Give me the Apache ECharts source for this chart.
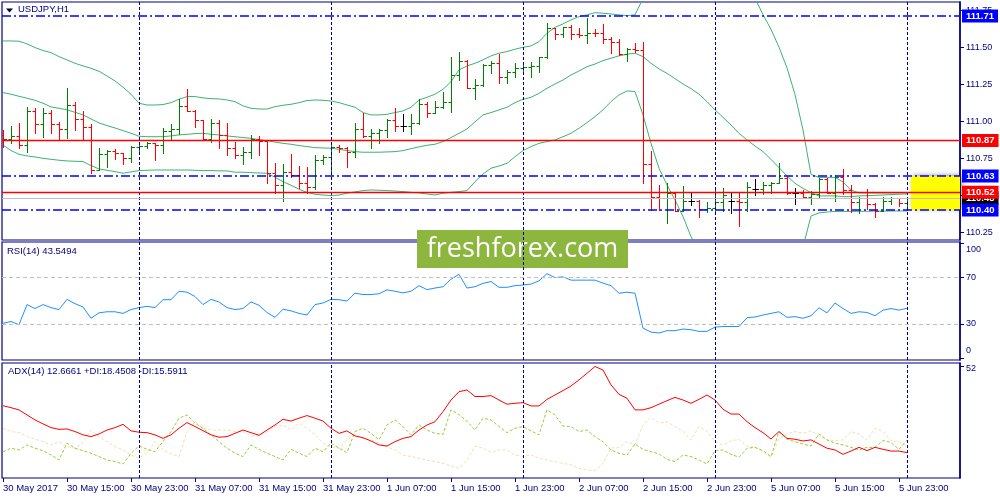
<!DOCTYPE html>
<html><head><meta charset="utf-8">
<script src="https://cdn.jsdelivr.net/npm/echarts@6/dist/echarts.min.js"></script>
<style>html,body{margin:0;padding:0;background:#fff}#c{width:1000px;height:500px}</style>
</head><body><div id="c"></div>
<script>
// ---- price bars (H1, 30 May 07:00 .. 6 Jun 00:00) ----
const opens = [110.907,110.877,110.900,110.837,111.069,110.981,111.053,110.981,110.945,111.107,
 111.015,110.963,110.670,110.778,110.801,110.783,110.751,110.828,110.835,110.850,
 110.839,110.936,110.945,111.103,111.071,111.008,110.877,110.986,110.907,110.817,
 110.772,110.794,110.877,110.868,110.648,110.569,110.659,110.636,110.580,110.558,
 110.738,110.760,110.828,110.817,110.794,110.947,110.902,110.923,110.941,111.008,
 110.970,110.970,110.986,111.116,111.053,111.098,111.132,111.312,111.407,111.222,
 111.245,111.380,111.391,111.296,111.335,111.357,111.368,111.373,111.432,111.627,
 111.589,111.639,111.587,111.582,111.598,111.594,111.553,111.533,111.454,111.486,
 111.481,110.709,110.486,110.479,110.513,110.395,110.461,110.461,110.405,110.412,
 110.452,110.461,110.461,110.456,110.540,110.540,110.569,110.585,110.614,110.517,
 110.517,110.486,110.508,110.607,110.517,110.625,110.535,110.456,110.479,110.441,
 110.395,110.463,110.479,110.450];
const highs = [110.941,110.968,110.986,111.094,111.087,111.091,111.076,110.997,111.222,111.132,
 111.069,110.981,110.817,110.805,110.812,110.787,110.835,110.862,110.862,110.855,
 110.952,110.981,111.148,111.215,111.076,111.010,111.013,111.008,110.986,110.862,
 110.828,110.907,110.900,110.873,110.715,110.709,110.778,110.697,110.693,110.772,
 110.772,110.844,110.839,110.822,110.986,111.053,110.945,110.945,111.013,111.087,
 111.049,111.049,111.148,111.132,111.139,111.200,111.432,111.470,111.410,111.283,
 111.386,111.407,111.452,111.346,111.391,111.396,111.402,111.436,111.661,111.630,
 111.639,111.650,111.627,111.695,111.620,111.656,111.566,111.553,111.492,111.526,
 111.533,110.801,110.569,110.585,110.520,110.562,110.513,110.468,110.456,110.546,
 110.546,110.524,110.513,110.592,110.607,110.592,110.592,110.715,110.620,110.546,
 110.535,110.531,110.614,110.614,110.637,110.675,110.569,110.486,110.540,110.445,
 110.486,110.486,110.482,110.486];
const lows = [110.828,110.855,110.817,110.794,110.918,110.895,110.923,110.877,110.884,110.941,
 110.877,110.652,110.670,110.693,110.742,110.711,110.727,110.776,110.817,110.738,
 110.787,110.873,110.914,111.071,110.959,110.877,110.862,110.817,110.769,110.749,
 110.711,110.749,110.772,110.585,110.513,110.463,110.625,110.546,110.513,110.540,
 110.711,110.659,110.794,110.693,110.756,110.896,110.821,110.855,110.896,110.936,
 110.936,110.914,110.981,111.026,111.053,111.087,111.064,111.278,111.222,111.148,
 111.238,111.323,111.256,111.256,111.301,111.335,111.296,111.335,111.425,111.553,
 111.571,111.553,111.571,111.526,111.576,111.526,111.459,111.447,111.409,111.470,
 110.580,110.400,110.400,110.315,110.395,110.390,110.434,110.350,110.389,110.395,
 110.395,110.378,110.292,110.395,110.501,110.508,110.517,110.585,110.508,110.441,
 110.479,110.441,110.490,110.513,110.463,110.508,110.389,110.378,110.405,110.355,
 110.390,110.441,110.428,110.400];
const closes = [110.877,110.900,110.837,111.069,110.981,111.053,110.981,110.945,111.107,111.015,
 110.963,110.670,110.778,110.801,110.783,110.751,110.828,110.835,110.850,110.839,
 110.936,110.945,111.103,111.071,111.008,110.877,110.986,110.907,110.817,110.772,
 110.794,110.877,110.868,110.648,110.569,110.659,110.636,110.580,110.558,110.738,
 110.760,110.828,110.817,110.794,110.947,110.902,110.923,110.941,111.008,110.970,
 110.970,110.986,111.116,111.053,111.098,111.132,111.312,111.407,111.222,111.245,
 111.380,111.391,111.296,111.335,111.357,111.368,111.373,111.432,111.627,111.589,
 111.639,111.587,111.582,111.598,111.594,111.553,111.533,111.454,111.486,111.481,
 110.709,110.486,110.479,110.513,110.395,110.461,110.461,110.405,110.412,110.452,
 110.501,110.461,110.456,110.553,110.540,110.569,110.585,110.614,110.517,110.517,
 110.486,110.508,110.607,110.517,110.625,110.535,110.456,110.479,110.441,110.395,
 110.463,110.479,110.450,110.478];

// ---- Bollinger bands ----
const bbUpper = [111.542,111.542,111.540,111.522,111.497,111.477,111.463,111.436,111.414,111.391,
 111.373,111.357,111.337,111.305,111.272,111.229,111.182,111.121,111.109,111.109,
 111.112,111.125,111.148,111.166,111.166,111.157,111.152,111.150,111.143,111.132,
 111.103,111.087,111.082,111.082,111.098,111.107,111.114,111.125,111.139,111.143,
 111.141,111.136,111.125,111.109,111.094,111.058,111.042,111.042,111.046,111.058,
 111.069,111.094,111.143,111.161,111.182,111.215,111.267,111.346,111.373,111.391,
 111.414,111.441,111.459,111.470,111.486,111.499,111.508,111.537,111.594,111.634,
 111.657,111.684,111.706,111.718,111.733,111.729,111.724,111.718,111.713,111.718,
 111.830,111.930,112.020,112.080,112.110,112.150,112.220,112.240,112.240,112.200,
 112.150,112.100,112.030,111.930,111.830,111.720,111.620,111.500,111.360,111.180,
 110.940,110.640,110.620,110.620,110.620,110.590,110.535,110.515,110.515,110.515,
 110.515,110.515,110.515,110.515];
const bbMiddle = [111.193,111.182,111.168,111.155,111.141,111.121,111.096,111.087,111.076,111.060,
 111.042,111.015,110.988,110.970,110.954,110.936,110.918,110.898,110.895,110.895,
 110.895,110.900,110.907,110.911,110.916,110.918,110.911,110.907,110.900,110.895,
 110.889,110.884,110.875,110.868,110.859,110.850,110.844,110.835,110.828,110.821,
 110.819,110.817,110.810,110.801,110.794,110.790,110.790,110.790,110.792,110.794,
 110.801,110.814,110.826,110.837,110.844,110.862,110.889,110.918,110.947,110.995,
 111.042,111.058,111.076,111.094,111.125,111.148,111.161,111.188,111.222,111.251,
 111.278,111.312,111.339,111.368,111.386,111.409,111.425,111.441,111.452,111.459,
 111.436,111.391,111.353,111.323,111.287,111.251,111.220,111.182,111.132,111.076,
 111.026,110.974,110.918,110.873,110.832,110.794,110.742,110.686,110.630,110.580,
 110.546,110.517,110.495,110.495,110.495,110.490,110.490,110.495,110.497,110.499,
 110.501,110.504,110.506,110.508];
const bbLower = [110.839,110.801,110.776,110.765,110.758,110.749,110.742,110.736,110.731,110.729,
 110.727,110.700,110.677,110.668,110.659,110.648,110.657,110.666,110.668,110.670,
 110.670,110.670,110.670,110.670,110.668,110.666,110.666,110.664,110.664,110.655,
 110.655,110.652,110.650,110.648,110.621,110.591,110.567,110.540,110.519,110.506,
 110.501,110.497,110.501,110.513,110.522,110.531,110.535,110.533,110.531,110.528,
 110.524,110.519,110.515,110.508,110.501,110.513,110.519,110.524,110.531,110.591,
 110.643,110.682,110.697,110.715,110.760,110.801,110.828,110.850,110.862,110.873,
 110.895,110.918,110.952,110.990,111.031,111.076,111.132,111.177,111.204,111.200,
 111.042,110.850,110.682,110.569,110.468,110.355,110.220,110.124,110.024,109.952,
 109.902,109.848,109.806,109.816,109.834,109.868,109.864,109.872,109.900,109.980,
 110.150,110.359,110.380,110.386,110.390,110.390,110.390,110.391,110.391,110.392,
 110.392,110.393,110.393,110.393];

// ---- RSI(14) ----
const rsi = [30.6,32.1,29.3,46.7,43.3,46.7,44.1,42.4,51.2,47.5,
 44.7,34.9,39.6,40.5,40.5,39.1,42.4,44.1,45.2,44.1,
 50.9,50.9,58.2,57.4,53.7,46.7,51.2,49.0,44.1,42.4,
 43.3,49.0,46.1,39.9,35.7,42.7,41.3,39.1,37.7,46.7,
 48.1,51.2,50.9,49.8,56.5,55.4,55.4,56.0,59.4,58.2,
 56.8,58.2,63.0,59.6,61.0,62.1,68.6,72.8,61.0,62.1,
 65.0,66.6,61.6,61.6,63.0,63.6,64.4,67.2,73.4,70.0,
 70.6,67.8,67.8,67.8,67.8,65.2,63.0,56.5,57.4,56.5,
 26.4,23.0,22.2,24.2,24.2,25.6,25.0,23.6,23.6,27.3,
 27.8,27.8,27.8,35.4,36.0,37.7,39.1,40.5,35.7,36.3,
 34.9,37.1,43.9,39.6,48.1,43.3,39.1,40.5,39.9,37.1,
 41.9,43.3,41.9,43.5494];

// ---- ADX(14) ----
const adx = [34.1,33.2,32.2,29.9,27.6,25.8,24.1,23.3,23.5,22.3,
 20.8,20.0,21.2,23.0,24.1,25.6,22.6,22.0,21.8,20.8,
 19.2,20.8,23.8,26.4,24.6,22.7,20.8,19.7,20.0,21.5,
 23.0,21.8,20.6,23.0,25.3,27.9,27.1,28.4,29.6,28.4,
 27.1,23.8,21.5,22.6,20.3,19.5,18.0,16.2,15.7,17.7,
 19.2,20.0,23.0,25.3,26.8,31.4,36.7,40.5,41.3,38.3,
 38.3,38.7,36.7,34.8,35.2,35.5,34.0,34.0,37.0,39.0,
 41.0,43.1,45.9,48.9,52.0,50.4,43.6,39.3,37.5,32.2,
 32.2,33.2,34.8,36.4,37.9,36.7,35.2,37.0,39.0,36.7,
 32.5,30.3,30.3,26.8,24.1,21.8,18.9,22.3,19.2,18.8,
 18.0,18.5,16.6,14.7,13.9,11.9,13.4,15.1,13.6,15.1,
 14.2,13.4,13.4,12.6661];
const plusDI = [13.1,14.7,13.9,16.2,14.7,13.6,11.6,9.3,17.0,14.7,
 13.6,12.4,10.9,9.3,8.6,7.5,12.4,15.7,14.2,13.1,
 17.7,22.3,28.4,29.9,26.1,23.8,20.8,17.7,14.7,12.4,
 10.9,16.2,14.2,12.4,10.9,9.3,14.2,12.4,10.9,14.7,
 13.1,17.0,14.7,12.7,22.3,23.8,21.5,18.5,25.3,27.6,
 24.6,20.8,25.3,23.0,21.5,21.0,32.2,30.0,27.0,23.0,
 28.4,27.6,24.6,21.8,23.8,24.6,22.6,20.8,32.2,29.9,
 24.8,24.6,22.3,23.0,20.0,17.7,13.9,12.4,11.6,16.6,
 14.2,13.1,12.1,9.6,8.6,11.6,10.9,9.3,7.5,13.6,
 13.9,11.9,10.6,14.7,15.1,13.6,10.9,22.3,18.8,17.7,
 16.6,15.7,21.2,18.5,17.0,16.2,15.1,13.9,15.1,15.1,
 18.2,17.3,14.2,18.4508];
const minusDI = [23.8,22.3,21.8,20.3,18.8,17.7,16.2,17.7,15.4,14.7,
 17.3,23.0,20.0,17.7,15.4,13.9,11.6,10.1,12.4,17.7,
 13.9,12.1,10.9,22.3,26.8,23.8,23.0,23.0,23.0,22.3,
 22.3,20.0,20.8,22.3,24.6,25.3,23.0,26.1,23.8,20.8,
 17.0,15.4,14.7,18.5,20.8,19.2,18.5,17.0,15.4,13.9,
 11.6,10.9,10.1,9.3,8.6,7.8,6.6,5.5,9.3,15.7,
 14.7,12.7,13.9,13.9,11.6,10.9,11.6,10.1,9.3,8.6,
 7.8,7.1,5.5,4.8,4.5,7.8,14.7,15.1,17.7,16.2,
 25.3,28.8,26.1,26.8,24.6,22.3,18.5,24.6,22.3,17.7,
 16.2,18.0,18.8,15.7,15.1,13.1,10.5,19.0,21.2,22.3,
 21.5,22.7,20.3,18.5,18.2,18.5,22.3,21.2,18.5,23.8,
 22.3,18.2,17.7,15.5911];

// ---- axes / levels ----
const timeTickIndex = [0,8,16,24,32,40,48,56,64,72,80,88,96,104,112];
const timeTickLabels = ["30 May 2017","30 May 15:00","30 May 23:00","31 May 07:00","31 May 15:00","31 May 23:00",
 "1 Jun 07:00","1 Jun 15:00","1 Jun 23:00","2 Jun 07:00","2 Jun 15:00","2 Jun 23:00",
 "5 Jun 07:00","5 Jun 15:00","5 Jun 23:00"];
const daySeparators = [17,41,65,89,113];
const priceTicks = [110.25,110.5,110.75,111,111.25,111.5,111.75];
const rsiTicks = [0,30,70,100];
const rsiLevels = [70,30];
const adxTicks = [1,52];
const blueLevels = [111.71,110.63,110.40];
const redLevels = [110.87,110.52];
const bidLevel = 110.48;
const zone = {from:113.5, low:110.40, high:110.63};
const symbolTitle = "USDJPY,H1";
const rsiTitle = "RSI(14) 43.5494";
const adxTitle = "ADX(14) 12.6661 +DI:18.4508 -DI:15.5911";

const NAVY = '#000080';
const FONT = 'Liberation Sans, Arial, sans-serif';
const XMIN = -0.125, XMAX = 119.625;

const chart = echarts.init(document.getElementById('c'), null, {renderer:'canvas'});

function renderBar(params, api){
  const i = api.value(0), o = api.value(1), h = api.value(2), l = api.value(3), c = api.value(4);
  const pH = api.coord([i,h]), pL = api.coord([i,l]), pO = api.coord([i,o]), pC = api.coord([i,c]);
  const x = Math.round(pH[0]) + 0.5;
  const yo = Math.round(pO[1]) + 0.5, yc = Math.round(pC[1]) + 0.5;
  const color = c > o ? '#008000' : (c < o ? '#ff0000' : '#000000');
  const style = {stroke: color, lineWidth: 1};
  return {type:'group', children:[
    {type:'line', shape:{x1:x, y1:Math.round(pH[1]), x2:x, y2:Math.round(pL[1])+1}, style},
    {type:'line', shape:{x1:x-3, y1:yo, x2:x, y2:yo}, style},
    {type:'line', shape:{x1:x, y1:yc, x2:x+3.5, y2:yc}, style}
  ]};
}

const sepLines = daySeparators.map(d => ({xAxis:d, lineStyle:{color:NAVY, type:[3,2], width:1}, label:{show:false}}));
function levelLine(v, color, type, width, bg){
  return {yAxis:v, lineStyle:{color:color, type:type, width:width},
    label:{show:true, position:'end', distance:2, formatter:v.toFixed(2), backgroundColor:bg, color:'#fff',
      fontFamily:FONT, fontSize:9.5, fontWeight:'bold', padding:[2,4,1,4]}};
}
const priceLevelData = [
  levelLine(bidLevel, '#c0c0c0', 'solid', 1, '#000000'),
  ...redLevels.map(v => levelLine(v, '#ff0000', 'solid', 1.3, '#ff0000')),
  ...blueLevels.map(v => levelLine(v, '#0000ff', [9,3,2,3], 1.5, '#0000ff'))
];

const idx = a => a.map((v,i)=>[i,v]);
const bbStyle = {color:'#3cb371', width:1};

function yAxisBase(grid, min, max, ticks, fmt, rich){
  return {type:'value', gridIndex:grid, position:'right', min:min, max:max,
    axisLine:{show:true, onZero:false, lineStyle:{color:NAVY, width:1.5}},
    axisTick:{show:true, length:4, customValues:ticks, lineStyle:{color:NAVY}},
    axisLabel:{customValues:ticks, color:NAVY, fontSize:9, fontFamily:FONT, margin:6, formatter:fmt, rich:rich},
    splitLine:{show:false}};
}
function xAxisBase(grid, show){
  return {type:'value', gridIndex:grid, min:XMIN, max:XMAX, show:true, position:'bottom',
    axisLine:{show:false, onZero:false},
    axisTick:{show:show, customValues:timeTickIndex, length:4, lineStyle:{color:NAVY}},
    axisLabel:{show:show, customValues:timeTickIndex, align:'left', color:NAVY, fontSize:9.5, fontFamily:FONT, margin:5,
      formatter:(v)=>timeTickLabels[timeTickIndex.indexOf(v)]},
    splitLine:{show:false}};
}
const lblStyle = {color:NAVY, fontSize:9, fontFamily:FONT};

const option = {
  animation:false,
  backgroundColor:'#ffffff',
  title:[
    {text:symbolTitle, left:18, top:4, padding:0, textStyle:{color:NAVY, fontSize:9.5, fontWeight:'normal', fontFamily:FONT}},
    {text:rsiTitle, left:7, top:246, padding:0, textStyle:{color:NAVY, fontSize:9.5, fontWeight:'normal', fontFamily:FONT}},
    {text:adxTitle, left:8, top:366, padding:0, textStyle:{color:NAVY, fontSize:9.5, fontWeight:'normal', fontFamily:FONT}}
  ],
  grid:[
    {left:2, top:2, width:958, height:238, show:true, borderColor:NAVY, borderWidth:1.2, backgroundColor:'transparent'},
    {left:2, top:242, width:958, height:118, show:true, borderColor:NAVY, borderWidth:1.2, backgroundColor:'transparent'},
    {left:2, top:363, width:958, height:115, show:true, borderColor:NAVY, borderWidth:1.2, backgroundColor:'transparent'}
  ],
  xAxis:[xAxisBase(0,false), xAxisBase(1,false), xAxisBase(2,true)],
  yAxis:[
    yAxisBase(0, 110.197, 111.805, priceTicks, v=>v.toFixed(2)),
    yAxisBase(1, -1.1, 100.7, rsiTicks, v => v===100 ? '{a|100}' : (v===0 ? '{b|0}' : String(v)),
      {a:Object.assign({padding:[13,0,0,0]}, lblStyle), b:Object.assign({padding:[0,0,16,0]}, lblStyle)}),
    yAxisBase(2, 1.1, 53.6, adxTicks, v => v===52 ? '{a|52}' : '{b|1}',
      {a:Object.assign({padding:[5,0,0,0]}, lblStyle), b:Object.assign({padding:[0,0,10,0]}, lblStyle)})
  ],
  series:[
    {type:'line', name:'bbLower', xAxisIndex:0, yAxisIndex:0, data:idx(bbLower), symbol:'none', lineStyle:bbStyle, clip:true, z:2,
      markArea:{silent:true, itemStyle:{color:'#ffff00', shadowBlur:5, shadowColor:'rgba(0,0,0,0.45)', shadowOffsetX:2, shadowOffsetY:-1},
        data:[[{xAxis:zone.from, yAxis:zone.high},{xAxis:XMAX, yAxis:zone.low}]]}},
    {type:'line', name:'bbMiddle', xAxisIndex:0, yAxisIndex:0, data:idx(bbMiddle), symbol:'none', lineStyle:bbStyle, clip:true, z:2,
      markLine:{silent:true, symbol:'none', animation:false, data:sepLines}},
    {type:'line', name:'bbUpper', xAxisIndex:0, yAxisIndex:0, data:idx(bbUpper), symbol:'none', lineStyle:bbStyle, clip:true, z:2,
      markLine:{silent:true, symbol:'none', animation:false, data:priceLevelData}},
    {type:'custom', name:'USDJPY', xAxisIndex:0, yAxisIndex:0, renderItem:renderBar, clip:true, z:4,
      encode:{x:0, y:[1,2,3,4]},
      data:opens.map((o,i)=>[i,o,highs[i],lows[i],closes[i]])},
    {type:'line', name:'RSI', xAxisIndex:1, yAxisIndex:1, data:idx(rsi), symbol:'none', lineStyle:{color:'#1e90ff', width:1}, clip:true,
      markLine:{silent:true, symbol:'none', animation:false,
        data:[...sepLines, ...rsiLevels.map(v=>({yAxis:v, lineStyle:{color:'#c0c0c0', type:[4,3], width:1}, label:{show:false}}))]}},
    {type:'line', name:'-DI', xAxisIndex:2, yAxisIndex:2, data:idx(minusDI), symbol:'none', lineStyle:{color:'#f5deb3', width:1, type:[3,2]}, clip:true},
    {type:'line', name:'+DI', xAxisIndex:2, yAxisIndex:2, data:idx(plusDI), symbol:'none', lineStyle:{color:'#9acd32', width:1, type:[3,2]}, clip:true},
    {type:'line', name:'ADX', xAxisIndex:2, yAxisIndex:2, data:idx(adx), symbol:'none', lineStyle:{color:'#ff0000', width:1}, clip:true,
      markLine:{silent:true, symbol:'none', animation:false, data:sepLines}}
  ],
  graphic:[
    {type:'polygon', z:50, shape:{points:[[6,8.5],[13,8.5],[9.5,12.5]]}, style:{fill:'#000033'}},
    {type:'group', z:100, children:[
      {type:'rect', shape:{x:417, y:230, width:211, height:38}, style:{fill:'#8db63e'}},
      {type:'text', x:522.5, y:249, style:{text:'freshforex.com', fill:'#ffffff', font:'27px "Open Sans", sans-serif', textAlign:'center', textVerticalAlign:'middle'}}
    ]}
  ]
};
chart.setOption(option);
</script>
</body></html>
